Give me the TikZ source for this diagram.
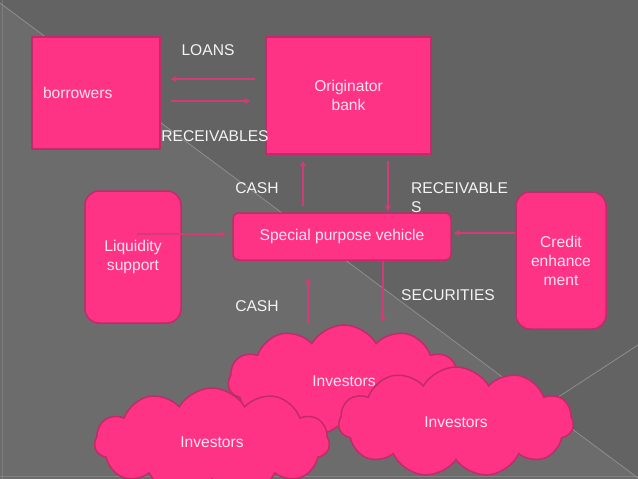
\documentclass[tikz,border=0pt]{standalone}
\usepackage{fontspec}
\setmainfont{Liberation Sans}
\usetikzlibrary{arrows.meta,shapes.symbols}
\definecolor{bgdark}{HTML}{636363}
\definecolor{bglight}{HTML}{6C6C6C}
\definecolor{bgline}{HTML}{8E8E8E}
\definecolor{pinkfill}{HTML}{FF3385}
\definecolor{pinkdraw}{HTML}{C22B67}
\definecolor{arrcol}{HTML}{D23B76}
\definecolor{boxtext}{HTML}{FFE3EF}
\definecolor{labtext}{HTML}{F4F4F4}
\begin{document}
\begin{tikzpicture}[x=1pt,y=-1pt,
  every node/.style={font={\fontsize{15.6}{19}\selectfont}},
  sqbox/.style={draw=pinkdraw, fill=pinkfill, line width=1.5pt, text=boxtext, inner sep=0pt, align=center},
  rbox/.style={sqbox, rounded corners=14pt},
  cloudbox/.style={cloud, cloud puffs=11, cloud puff arc=120, draw=pinkdraw, fill=pinkfill, line width=1.5pt, text=boxtext, inner sep=0pt},
  lab/.style={text=labtext, inner sep=0pt},
  arr/.style={draw=arrcol, line width=1.1pt, arrows={-Stealth[length=6pt,width=6pt]}},
  bgl/.style={draw=bgline, line width=0.8pt}]
% background
\useasboundingbox (0,0) rectangle (638,479);
\fill[bgdark] (0,0) rectangle (638,479);
\fill[bglight] (0,3) -- (638,478) -- (638,479) -- (0,479) -- cycle;
\draw[bgl] (0,3) -- (638,478);
\draw[bgl] (543,407) -- (638,345);
\draw[bgl, draw opacity=0.5] (2,0) -- (2,479);
\draw[bgl, draw opacity=0.6] (0,476) -- (638,476);

% boxes
\node[sqbox, minimum width=128pt, minimum height=112pt, text width=106pt, align=left, inner xsep=11pt] (bor) at (96,93) {borrowers};
\node[sqbox, minimum width=165pt, minimum height=117pt] (orig) at (348.5,95.5) {Originator\\bank};
\node[sqbox, rounded corners=6pt, minimum width=218pt, minimum height=47pt] (spv) at (342,236.5) {Special purpose vehicle};
\node[rbox, minimum width=96pt, minimum height=132pt] (liq) at (133,257) {Liquidity\\support};
\node[rbox, minimum width=90pt, minimum height=137pt] (cred) at (561,260.5) {Credit\\enhance\\ment};

% clouds
\node[cloudbox, minimum width=232pt, minimum height=112pt] (invm) at (344,381) {Investors};
\node[cloudbox, minimum width=235pt, minimum height=108pt] (invl) at (212,442) {Investors};
\node[cloudbox, minimum width=235pt, minimum height=110pt] (invr) at (456,422) {Investors};

% labels
\node[lab] (tloans) at (208,50) {LOANS};
\node[lab] (trec) at (215,136) {RECEIVABLES};
\node[lab] (tcash1) at (257,188) {CASH};
\node[lab, align=left, anchor=west] (trec2) at (411,198) {RECEIVABLE\\S};
\node[lab] (tsec) at (448,295) {SECURITIES};
\node[lab] (tcash2) at (257,306) {CASH};

% connectors
\draw[arr, shorten <=10pt, shorten >=10pt] ([yshift=16.5pt]orig.west) -- ([yshift=14pt]bor.east);
\draw[arr, shorten <=10pt, shorten >=15pt] ([yshift=-8pt]bor.east) -- ([yshift=-5.5pt]orig.west);
\draw[arr, shorten <=6pt, shorten >=6pt] ([xshift=-39pt]spv.north) -- ([xshift=-45.5pt]orig.south);
\draw[arr, shorten <=6pt, shorten >=1pt] ([xshift=39.5pt]orig.south) -- ([xshift=46pt]spv.north);
\draw[arr, shorten >=6pt] ([xshift=4pt,yshift=23pt]liq.center) -- ([yshift=2.5pt]spv.west);
\draw[arr, shorten >=2pt] ([yshift=27.5pt]cred.west) -- ([yshift=3.5pt]spv.east);
\draw[arr] ([xshift=41pt]spv.south) -- ([xshift=39pt,yshift=59pt]invm.center);
\draw[arr] ([xshift=-36pt,yshift=58pt]invm.center) -- ([xshift=-34pt,yshift=-17pt]spv.south);
\end{tikzpicture}
\end{document}
